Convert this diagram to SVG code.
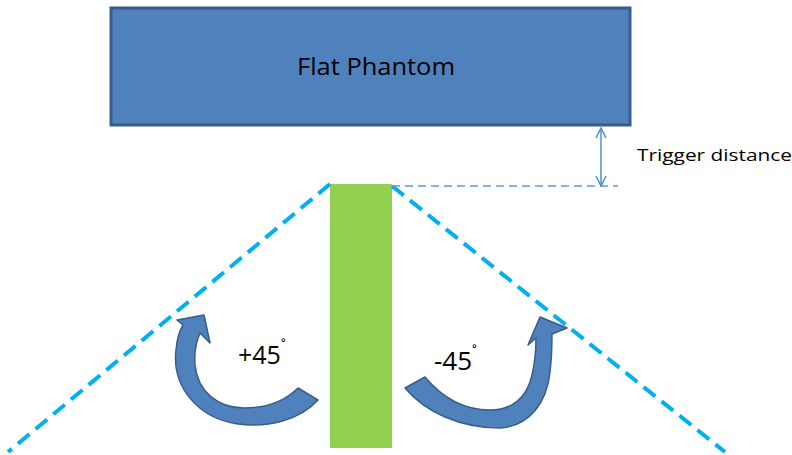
<svg xmlns="http://www.w3.org/2000/svg" width="792" height="455" viewBox="0 0 792 455">
<defs>
<style>
.lbl{font-family:"Open Sans","Liberation Sans",sans-serif;fill:#000}
.ray{stroke:#00B0F0;stroke-width:4;stroke-dasharray:15 8;fill:none}
.curv{fill:#4F81BD;stroke:#385D8A;stroke-width:1.5;stroke-linejoin:round}
</style>
<marker id="oa" viewBox="0 0 12 12" refX="11" refY="6" markerWidth="12" markerHeight="12" markerUnits="userSpaceOnUse" orient="auto-start-reverse">
<path d="M1,1 L11,6 L1,11" fill="none" stroke="#4A90D0" stroke-width="1.5"/>
</marker>
</defs>
<rect width="792" height="455" fill="#fff"/>
<g id="phantom">
<rect x="111" y="8" width="519" height="117" fill="#4F81BD" stroke="#385D8A" stroke-width="3"/>
<text class="lbl" x="297" y="75" font-size="24" textLength="158" lengthAdjust="spacingAndGlyphs">Flat Phantom</text>
</g>
<g id="sensor">
<rect x="330" y="184" width="62" height="264" fill="#92D050"/>
</g>
<g id="connectors">
<line class="ray" x1="330" y1="184" x2="8" y2="452"/>
<line class="ray" x1="392" y1="186" x2="725" y2="452"/>
<line x1="392" y1="186" x2="618" y2="186" stroke="#5B9BD5" stroke-width="1.5" stroke-dasharray="8 5"/>
<line x1="601" y1="128" x2="601" y2="186" stroke="#4A90D0" stroke-width="1.5" marker-start="url(#oa)" marker-end="url(#oa)"/>
</g>
<g id="trigger-label">
<text class="lbl" x="637" y="161" font-size="17" textLength="155" lengthAdjust="spacingAndGlyphs">Trigger distance</text>
</g>
<g id="rot-left">
<path class="curv" d="M318,400 C300,420 268,428 238,424 C196,418 172,385 176,350 C177,338 180,330 183,325 L177,320 L204,315 L210,343 L200,333 C196,342 194,352 195,365 C198,392 218,408 244,408 C268,408 286,400 298,388 Z"/>
<text class="lbl" x="238" y="364" font-size="25">+45<tspan font-size="16" dy="-12">˚</tspan></text>
</g>
<g id="rot-right">
<path class="curv" d="M405,388 C425,412 460,428 500,428 C530,426 547,402 550,372 C552,355 552,343 552,334 L567,328 L540,317 L528,345 L536,338 C536,350 535,362 532,375 C527,398 512,410 490,410 C462,410 440,395 425,377 Z"/>
<text class="lbl" x="434" y="370" font-size="26">-45<tspan font-size="16" dy="-12">˚</tspan></text>
</g>
</svg>
